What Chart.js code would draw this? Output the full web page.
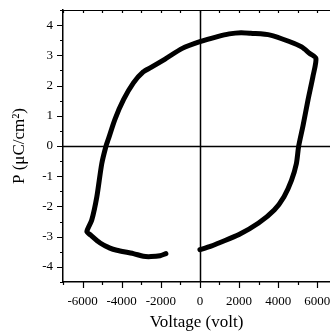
<!DOCTYPE html>
<html>
<head>
<meta charset="utf-8">
<script src="https://cdn.jsdelivr.net/npm/chart.js@4/dist/chart.umd.min.js"></script>
<style>
    html, body {
        margin: 0;
        padding: 0;
        background: #ffffff;
        overflow: hidden;
    }
</style>
</head>
<body>
<canvas id="loopChart" width="330" height="334"></canvas>
<script>
// ======================
// DATA
// ======================
const voltage = [
    0, 500, 1000, 2000, 3000, 3800, 4300, 4680, 4930, 5050, 5270, 5530, 5780, 5930,
    5600, 5200, 4600, 3600, 2600, 2100, 1500, 900, 0, -900, -1800, -2500, -2900,
    -3400, -3900, -4340, -4680, -4800, -5020, -5270, -5530, -5780,
    -5600, -5100, -4600, -4250, -3400, -2890, -2500, -2040, -1740
];

const polarization = [
    -3.43, -3.33, -3.20, -2.93, -2.55, -2.12, -1.68, -1.14, -0.59, 0, 0.67, 1.54, 2.31, 2.90,
    3.07, 3.28, 3.45, 3.67, 3.73, 3.75, 3.71, 3.62, 3.45, 3.23, 2.87, 2.60, 2.45,
    2.09, 1.54, 0.89, 0.23, 0, -0.59, -1.68, -2.45, -2.83,
    -2.94, -3.21, -3.38, -3.45, -3.56, -3.65, -3.66, -3.63, -3.56
];

const xTicks = [-7000, -6000, -5000, -4000, -3000, -2000, -1000, 0, 1000, 2000, 3000, 4000, 5000, 6000];
const yTicks = [-4.5, -4, -3.5, -3, -2.5, -2, -1.5, -1, -0.5, 0, 0.5, 1, 1.5, 2, 2.5, 3, 3.5, 4, 4.5];

const loopPoints =
    voltage.map((v, i) => ({ x: v, y: polarization[i] }));

const serif = "'Liberation Serif', 'Times New Roman', serif";

// ======================
// FRAME, ZERO LINES, TICKS
// ======================
const framePlugin = {
    id: "frame",

    beforeDatasetsDraw(chart) {
        const ctx = chart.ctx;
        const area = chart.chartArea;
        const xs = chart.scales.x;
        const ys = chart.scales.y;

        ctx.save();
        ctx.strokeStyle = "#000";
        ctx.lineWidth = 1.5;

        // zero lines
        const x0 = Math.round(xs.getPixelForValue(0)) + 0.5;
        const y0 = Math.round(ys.getPixelForValue(0)) + 0.5;
        ctx.beginPath();
        ctx.moveTo(x0, area.top);
        ctx.lineTo(x0, area.bottom);
        ctx.moveTo(area.left, y0);
        ctx.lineTo(area.right, y0);
        ctx.stroke();

        // top frame line
        ctx.lineWidth = 1;
        ctx.beginPath();
        ctx.moveTo(area.left, area.top + 0.5);
        ctx.lineTo(area.right, area.top + 0.5);
        ctx.stroke();

        // tick marks
        ctx.lineWidth = 1.2;
        ctx.beginPath();

        xTicks.forEach(v => {
            const px = Math.round(xs.getPixelForValue(v)) + 0.5;
            const len = v % 2000 === 0 ? 6 : 3;
            ctx.moveTo(px, area.bottom);
            ctx.lineTo(px, area.bottom + len);
            ctx.moveTo(px, area.top);
            ctx.lineTo(px, area.top + 3);
        });

        yTicks.forEach(v => {
            const py = Math.round(ys.getPixelForValue(v)) + 0.5;
            const len = Number.isInteger(v) ? 6 : 3;
            ctx.moveTo(area.left, py);
            ctx.lineTo(area.left - len, py);
        });

        ctx.stroke();
        ctx.restore();
    }
};

new Chart(
    document.getElementById("loopChart"),
    {
        type: "scatter",

        data: {
            datasets: [{
                data: loopPoints,
                showLine: true,
                borderColor: "#000",
                borderWidth: 5,
                borderCapStyle: "round",
                borderJoinStyle: "round",
                pointRadius: 0,
                tension: 0.25
            }]
        },

        options: {
            responsive: false,
            animation: false,
            devicePixelRatio: 1,

            layout: {
                padding: { top: 10, right: 0, left: 0, bottom: 0 }
            },

            plugins: {
                legend: { display: false },
                tooltip: { enabled: false }
            },

            scales: {
                x: {
                    type: "linear",
                    min: -7000,
                    max: 6650,
                    afterBuildTicks: scale => {
                        scale.ticks = xTicks.map(v => ({ value: v }));
                    },
                    afterFit: scale => {
                        scale.height = 52;
                        scale.paddingLeft = 0;
                        scale.paddingRight = 0;
                    },
                    grid: { display: false, drawTicks: false },
                    border: { display: true, color: "#000", width: 1.5 },
                    ticks: {
                        autoSkip: false,
                        maxRotation: 0,
                        padding: 12,
                        color: "#000",
                        font: { family: serif, size: 13 },
                        callback: v => (v % 2000 === 0 && v > -7000) ? String(v) : ""
                    },
                    title: {
                        display: true,
                        text: "Voltage (volt)",
                        color: "#000",
                        font: { family: serif, size: 17 },
                        padding: { top: 0, bottom: 1 }
                    }
                },

                y: {
                    type: "linear",
                    min: -4.5,
                    max: 4.5,
                    afterBuildTicks: scale => {
                        scale.ticks = yTicks.map(v => ({ value: v }));
                    },
                    afterFit: scale => {
                        scale.width = 63;
                        scale.paddingTop = 0;
                        scale.paddingBottom = 0;
                    },
                    grid: { display: false, drawTicks: false },
                    border: { display: true, color: "#000", width: 1.5 },
                    ticks: {
                        autoSkip: false,
                        padding: 10,
                        color: "#000",
                        font: { family: serif, size: 13 },
                        callback: v => Number.isInteger(v) ? String(v) : ""
                    },
                    title: {
                        display: true,
                        text: "P (μC/cm²)",
                        color: "#000",
                        font: { family: serif, size: 17 },
                        padding: { top: 9, bottom: 0 }
                    }
                }
            }
        },

        plugins: [framePlugin]
    }
);
</script>
</body>
</html>
